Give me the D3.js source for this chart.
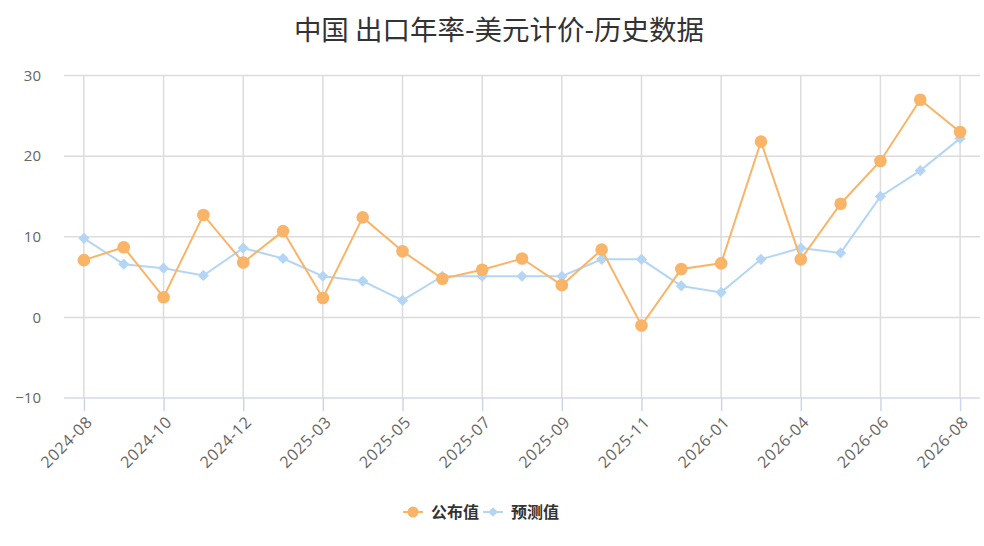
<!DOCTYPE html>
<html>
<head>
<meta charset="utf-8">
<script src="https://cdn.jsdelivr.net/npm/d3@7"></script>
<style>
  body { margin: 0; background: #fff; }
  svg { display: block; font-family: "Noto Sans CJK SC", "Noto Sans", sans-serif; }
</style>
</head>
<body>
<div id="chart"></div>
<script>
// data
var months = ["2024-08", "2024-09", "2024-10", "2024-11", "2024-12", "2025-02", "2025-03",
  "2025-04", "2025-05", "2025-06", "2025-07", "2025-08", "2025-09", "2025-10", "2025-11",
  "2025-12", "2026-01", "2026-03", "2026-04", "2026-05", "2026-06", "2026-07", "2026-08"];
var actual = [7.1, 8.7, 2.5, 12.7, 6.8, 10.7, 2.4, 12.4, 8.2, 4.8, 5.9, 7.3, 4.0, 8.4, -1.0,
  6.0, 6.7, 21.8, 7.2, 14.1, 19.4, 27.0, 23.0];
var forecast = [9.8, 6.6, 6.1, 5.2, 8.6, 7.3, 5.1, 4.5, 2.1, 5.1, 5.1, 5.1, 5.1, 7.2, 7.2,
  3.9, 3.1, 7.2, 8.6, 8.0, 15.0, 18.2, 22.2];
var yTicks = [-10, 0, 10, 20, 30];
var title = "中国 出口年率-美元计价-历史数据";
var seriesNames = ["公布值", "预测值"];
var colors = ["#f9b468", "#b5d5f5"];

var W = 984, H = 546;
var plotL = 64, plotR = 980, plotT = 75.5, plotB = 398;

var svg = d3.select("#chart").append("svg")
  .attr("width", W)
  .attr("height", H);

var x = d3.scalePoint().domain(months).range([plotL, plotR]).padding(0.5);
var y = d3.scaleLinear().domain([-10, 30]).range([plotB, plotT]);

// title
svg.append("text")
  .attr("x", 499)
  .attr("y", 40)
  .attr("text-anchor", "middle")
  .style("font-size", "27.5px")
  .style("fill", "#333")
  .text(title);

// horizontal grid
svg.append("g")
  .selectAll("line")
  .data(yTicks.filter(function(d) { return d !== -10; }))
  .enter().append("line")
  .attr("x1", plotL).attr("x2", plotR)
  .attr("y1", function(d) { return y(d); })
  .attr("y2", function(d) { return y(d); })
  .attr("stroke", "#dcdcdc")
  .attr("stroke-width", 1.5);

// vertical grid, every second month
var shown = months.filter(function(d, i) { return i % 2 === 0; });
svg.append("g")
  .selectAll("line")
  .data(shown)
  .enter().append("line")
  .attr("x1", function(d) { return x(d); })
  .attr("x2", function(d) { return x(d); })
  .attr("y1", plotT).attr("y2", plotB)
  .attr("stroke", "#dcdcdc")
  .attr("stroke-width", 1.5);

// x axis
var xAxis = svg.append("g")
  .attr("transform", "translate(0," + plotB + ")")
  .call(d3.axisBottom(x).tickValues(shown).tickSize(13).tickSizeOuter(0));
xAxis.select(".domain").attr("stroke", "#d3dae8").attr("stroke-width", 1.5)
  .attr("d", "M" + plotL + ",0H" + plotR);
xAxis.selectAll(".tick line").attr("stroke", "#ccd6eb").attr("stroke-width", 1.5);
xAxis.selectAll(".tick text")
  .attr("text-anchor", "end")
  .attr("x", 0).attr("y", 0).attr("dy", 0)
  .attr("transform", "translate(9,25) rotate(-45)")
  .style("font-size", "16px")
  .style("letter-spacing", "0.7px")
  .style("font-family", "\"Open Sans\", \"Noto Sans\", sans-serif")
  .style("fill", "#666");

// y axis
var yAxis = svg.append("g")
  .attr("transform", "translate(41,0)")
  .call(d3.axisLeft(y).tickValues(yTicks).tickSize(0).tickFormat(function(d) { return d < 0 ? "\u2212" + (-d) : d; }));
yAxis.select(".domain").remove();
yAxis.selectAll(".tick text")
  .attr("x", 0)
  .style("font-size", "15px")
  .style("font-family", "\"Open Sans\", \"Noto Sans\", sans-serif")
  .style("fill", "#666");

var line = d3.line()
  .x(function(d, i) { return x(months[i]); })
  .y(function(d) { return y(d); });

var diamond = d3.symbol().type(d3.symbolDiamond2).size(80);

// forecast series
svg.append("path")
  .datum(forecast)
  .attr("d", line)
  .attr("fill", "none")
  .attr("stroke", colors[1])
  .attr("stroke-width", 2);
svg.append("g").selectAll("path")
  .data(forecast)
  .enter().append("path")
  .attr("d", diamond)
  .attr("transform", function(d, i) { return "translate(" + x(months[i]) + "," + y(d) + ")"; })
  .attr("fill", colors[1]);

// actual series
svg.append("path")
  .datum(actual)
  .attr("d", line)
  .attr("fill", "none")
  .attr("stroke", colors[0])
  .attr("stroke-width", 2);
svg.append("g").selectAll("circle")
  .data(actual)
  .enter().append("circle")
  .attr("cx", function(d, i) { return x(months[i]); })
  .attr("cy", function(d) { return y(d); })
  .attr("r", 6.3)
  .attr("fill", colors[0]);

// legend
var legend = svg.append("g").attr("transform", "translate(403,512)");
var lx = [0, 80];
seriesNames.forEach(function(name, i) {
  var g = legend.append("g").attr("transform", "translate(" + lx[i] + ",0)");
  g.append("line")
    .attr("x1", 0).attr("x2", 20)
    .attr("stroke", colors[i]).attr("stroke-width", 2);
  if (i === 0) {
    g.append("circle").attr("cx", 10).attr("r", 5.5).attr("fill", colors[i]);
  } else {
    g.append("path").attr("d", d3.symbol().type(d3.symbolDiamond2).size(60))
      .attr("transform", "translate(10,0)").attr("fill", colors[i]);
  }
  g.append("text")
    .attr("x", 28).attr("y", 0).attr("dy", "0.36em")
    .style("font-size", "16px")
    .style("font-weight", "bold")
    .style("fill", "#333")
    .text(name);
});
</script>
</body>
</html>
